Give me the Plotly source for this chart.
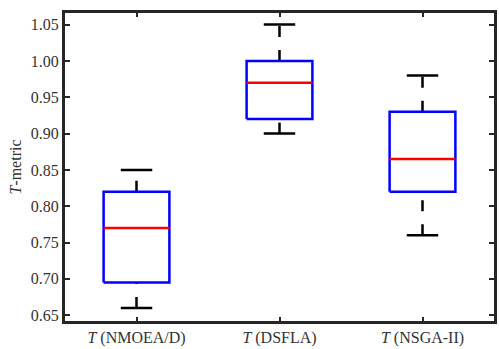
import plotly.graph_objects as go

categories = ["<i>T</i> (NMOEA/D)", "<i>T</i> (DSFLA)", "<i>T</i> (NSGA-II)"]
positions = [1, 2, 3]
q1 = [0.695, 0.92, 0.82]
median = [0.77, 0.97, 0.865]
q3 = [0.82, 1.00, 0.93]
lower = [0.66, 0.90, 0.76]
upper = [0.85, 1.05, 0.98]
y_ticks = [0.65, 0.70, 0.75, 0.80, 0.85, 0.90, 0.95, 1.00, 1.05]

BOX_HALF = 0.23
CAP_HALF = 0.11
FONT = "Liberation Serif"
AXIS_COLOR = "#262626"

fig = go.Figure()
for i, x in enumerate(positions):
    # whiskers (dashed), each drawn bottom-to-top
    for y0, y1 in ((lower[i], q1[i]), (q3[i], upper[i])):
        fig.add_trace(go.Scatter(x=[x, x], y=[y0, y1], mode="lines",
                                 line=dict(color="black", width=2.5, dash="11px,13px"),
                                 hoverinfo="skip", showlegend=False))
    for cap in (lower[i], upper[i]):
        fig.add_trace(go.Scatter(x=[x - CAP_HALF, x + CAP_HALF], y=[cap, cap], mode="lines",
                                 line=dict(color="black", width=2.5),
                                 hoverinfo="skip", showlegend=False))
    # box
    fig.add_trace(go.Scatter(
        x=[x - BOX_HALF, x + BOX_HALF, x + BOX_HALF, x - BOX_HALF, x - BOX_HALF],
        y=[q1[i], q1[i], q3[i], q3[i], q1[i]], mode="lines",
        line=dict(color="#0000ff", width=2.5),
        hoverinfo="skip", showlegend=False))
    # median
    fig.add_trace(go.Scatter(x=[x - BOX_HALF, x + BOX_HALF], y=[median[i], median[i]],
                             mode="lines", line=dict(color="#ff0000", width=2.5),
                             hoverinfo="skip", showlegend=False))

fig.update_layout(
    width=499, height=349,
    margin=dict(l=65, r=2, t=13, b=26),
    paper_bgcolor="white", plot_bgcolor="white",
    font=dict(family=FONT, size=16, color="#333333"),
    xaxis=dict(range=[0.5, 3.5], tickmode="array", tickvals=positions, ticktext=categories,
               showgrid=False, zeroline=False, showline=True, linecolor=AXIS_COLOR, linewidth=3,
               mirror="ticks", ticks="inside", ticklen=4, tickwidth=2, tickcolor=AXIS_COLOR,
               tickfont=dict(family=FONT, size=16, color="#333333")),
    yaxis=dict(range=[0.642, 1.066], tickmode="array", tickvals=y_ticks,
               ticktext=[f"{v:.2f}" for v in y_ticks],
               showgrid=False, zeroline=False, showline=True, linecolor=AXIS_COLOR, linewidth=3,
               mirror="ticks", ticks="inside", ticklen=5, tickwidth=2, tickcolor=AXIS_COLOR,
               tickfont=dict(family=FONT, size=16, color="#333333"),
               title=dict(text="<i>T</i>-metric", font=dict(family=FONT, size=16, color="#333333"),
                          standoff=6)),
)

fig.write_html("out.html")
